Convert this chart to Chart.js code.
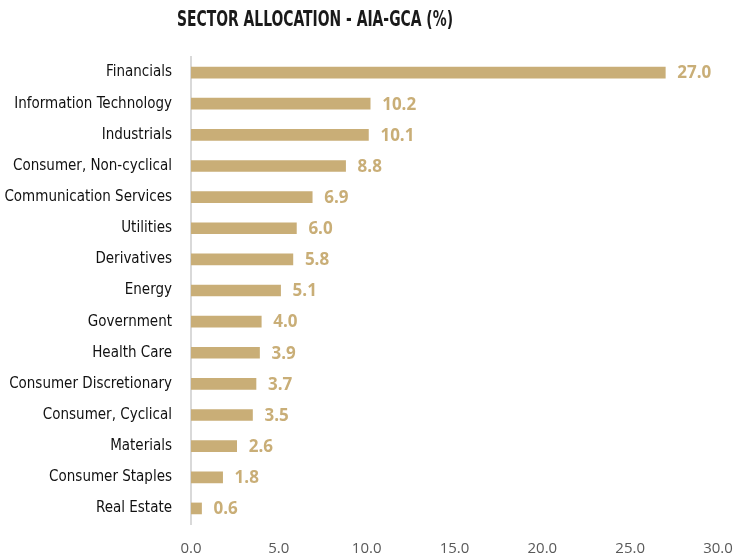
<!DOCTYPE html>
<html>
<head>
<meta charset="utf-8">
<script src="https://cdn.jsdelivr.net/npm/chart.js@4.4.1/dist/chart.umd.min.js"></script>
<style>
  html, body { margin: 0; padding: 0; background: #fff; }
  #wrap { width: 736px; height: 555px; position: relative; }
</style>
</head>
<body>
<div id="wrap"><canvas id="chart"></canvas></div>
<script>
const categories = [
    "Financials", "Information Technology", "Industrials", "Consumer, Non-cyclical",
    "Communication Services", "Utilities", "Derivatives", "Energy", "Government",
    "Health Care", "Consumer Discretionary", "Consumer, Cyclical", "Materials",
    "Consumer Staples", "Real Estate"
];
const allocation = [27.0, 10.2, 10.1, 8.8, 6.9, 6.0, 5.8, 5.1, 4.0, 3.9, 3.7, 3.5, 2.6, 1.8, 0.6];
const xTicks = [0, 5, 10, 15, 20, 25, 30];
const chartTitle = "SECTOR ALLOCATION - AIA-GCA (%)";

const GOLD = "#C9AE77";
const NARROW = "'Liberation Sans Narrow', 'DejaVu Sans Condensed', 'Liberation Sans', sans-serif";

// value labels to the right of each bar
const valueLabels = {
    id: "valueLabels",
    afterDatasetsDraw(chart) {
        const ctx = chart.ctx;
        const meta = chart.getDatasetMeta(0);
        ctx.save();
        ctx.font = "bold 17px 'Open Sans', 'Liberation Sans', sans-serif";
        ctx.fillStyle = GOLD;
        ctx.textAlign = "left";
        ctx.textBaseline = "middle";
        meta.data.forEach((bar, i) => {
            ctx.fillText(allocation[i].toFixed(1), bar.x + 12, bar.y + 1);
        });
        ctx.restore();
    }
};

// title sits left of centre in the original, squeezed narrow
const titleText = {
    id: "titleText",
    afterDraw(chart) {
        const ctx = chart.ctx;
        ctx.save();
        ctx.font = "bold 21px " + NARROW;
        ctx.fillStyle = "#1a1a1a";
        ctx.textAlign = "center";
        ctx.textBaseline = "middle";
        ctx.fillText(chartTitle, 315, 21, 276);
        ctx.restore();
    }
};

new Chart(document.getElementById("chart"), {
    type: "bar",
    data: {
        labels: categories,
        datasets: [{
            data: allocation,
            backgroundColor: GOLD,
            barThickness: 11
        }]
    },
    options: {
        indexAxis: "y",
        responsive: true,
        maintainAspectRatio: false,
        animation: false,
        layout: { padding: { top: 57, right: 18, left: 0, bottom: 0 } },
        plugins: {
            legend: { display: false },
            tooltip: { enabled: false }
        },
        scales: {
            x: {
                min: 0,
                max: 30,
                afterBuildTicks(scale) {
                    scale.ticks = xTicks.map(v => ({ value: v }));
                },
                afterFit(scale) {
                    scale.height = 31;
                    scale.paddingLeft = 0;
                    scale.paddingRight = 0;
                },
                grid: { display: false, drawTicks: false },
                border: { display: false },
                ticks: {
                    padding: 16,
                    color: "#595959",
                    font: { size: 15, family: "'Open Sans', 'Liberation Sans', sans-serif" },
                    callback: v => v.toFixed(1),
                    maxRotation: 0
                }
            },
            y: {
                afterFit(scale) { scale.width = 191; },
                grid: { display: false, drawTicks: false },
                border: { display: true, color: "#D9D9D9", width: 2 },
                ticks: {
                    padding: 19,
                    color: "#111",
                    font: { size: 15, family: NARROW }
                }
            }
        }
    },
    plugins: [valueLabels, titleText]
});
</script>
</body>
</html>
